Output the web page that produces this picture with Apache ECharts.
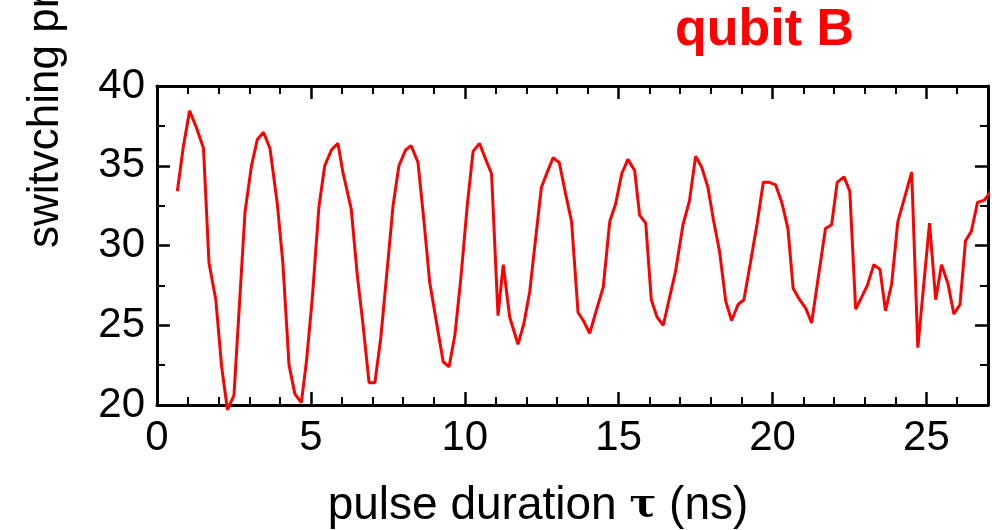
<!DOCTYPE html>
<html>
<head>
<meta charset="utf-8">
<script src="https://cdn.jsdelivr.net/npm/echarts@6/dist/echarts.min.js"></script>
<style>
  html, body { margin: 0; padding: 0; background: #fff; }
  #chart { width: 992px; height: 530px; }
</style>
</head>
<body>
<div id="chart"></div>
<script>
// pulse duration (ns)
var tau = [0.66, 0.86, 1.06, 1.28, 1.51, 1.69, 1.91, 2.10, 2.29, 2.50, 2.86, 3.07, 3.26, 3.46, 3.67, 3.91, 4.09, 4.29, 4.48, 4.69,
  4.86, 5.05, 5.26, 5.45, 5.67, 5.88, 6.04, 6.31, 6.51, 6.69, 6.89, 7.08, 7.27, 7.46, 7.67, 7.86, 8.08, 8.26, 8.48, 8.67,
  8.86, 9.07, 9.30, 9.49, 9.68, 9.87, 10.08, 10.27, 10.48, 10.68, 10.87, 11.08, 11.25, 11.46, 11.73, 11.92, 12.11, 12.30, 12.49, 12.68,
  12.87, 13.07, 13.27, 13.47, 13.68, 13.85, 14.06, 14.27, 14.50, 14.71, 14.90, 15.10, 15.30, 15.52, 15.68, 15.88, 16.06, 16.25, 16.45, 16.66,
  16.85, 17.09, 17.30, 17.50, 17.70, 17.90, 18.08, 18.28, 18.48, 18.67, 18.88, 19.07, 19.28, 19.50, 19.70, 19.90, 20.10, 20.30, 20.50, 20.67,
  20.88, 21.08, 21.27, 21.49, 21.72, 21.92, 22.10, 22.32, 22.51, 22.70, 22.88, 23.08, 23.29, 23.49, 23.67, 23.87, 24.07, 24.29, 24.52, 24.72,
  25.10, 25.30, 25.49, 25.70, 25.89, 26.09, 26.27, 26.46, 26.66, 26.88, 27.10];
// switching probability (%)
var prob = [33.4, 36.25, 38.44, 37.4, 36.1, 28.9, 26.6, 22.4, 19.7, 20.6, 32.1, 35.0, 36.65, 37.1, 36.1, 32.6, 28.9, 22.5, 20.7, 20.15,
  22.8, 26.8, 32.4, 35.0, 36.0, 36.4, 34.6, 32.3, 28.1, 25.1, 21.4, 21.4, 24.2, 28.1, 32.5, 35.0, 36.0, 36.25, 35.2, 31.6,
  27.7, 25.3, 22.7, 22.4, 24.4, 27.9, 32.5, 35.9, 36.4, 35.4, 34.5, 25.6, 28.8, 25.5, 23.8, 25.1, 27.1, 30.4, 33.65, 34.6,
  35.5, 35.2, 33.3, 31.5, 25.8, 25.3, 24.5, 25.9, 27.4, 31.5, 32.6, 34.5, 35.4, 34.7, 31.9, 31.4, 26.6, 25.5, 25.0, 26.8,
  28.4, 31.3, 32.8, 35.6, 34.9, 33.65, 31.6, 29.6, 26.5, 25.3, 26.3, 26.6, 28.9, 31.4, 33.96, 33.96, 33.8, 32.7, 31.06, 27.3,
  26.6, 26.06, 25.15, 28.06, 31.06, 31.3, 33.96, 34.3, 33.4, 26.0, 26.7, 27.5, 28.8, 28.5, 25.9, 27.6, 31.5, 33.0, 34.6, 23.6,
  31.4, 26.6, 28.8, 27.6, 25.7, 26.3, 30.3, 30.9, 32.7, 32.85, 33.4];

var xTicks = [0, 5, 10, 15, 20, 25];
var yTicks = [20, 25, 30, 35, 40];

var points = [];
for (var i = 0; i < tau.length; i++) {
  points.push([tau[i], prob[i]]);
}

var chart = echarts.init(document.getElementById('chart'));

var font = 'Liberation Sans, Arial, sans-serif';
var frame = { show: true, onZero: false, lineStyle: { color: '#000', width: 3 } };
var tick = { show: true, inside: true, length: 13, lineStyle: { color: '#000', width: 2.5 } };
var minor = { show: true, length: 8, lineStyle: { color: '#000', width: 2 } };

var option = {
  backgroundColor: '#fff',
  animation: false,
  title: {
    text: 'qubit B',
    left: 670,
    top: 0,
    textStyle: { color: '#ff0000', fontSize: 52, fontWeight: 'bold', fontFamily: font }
  },
  grid: { left: 157, right: 4, top: 86, bottom: 125 },
  xAxis: [{
    type: 'value',
    position: 'bottom',
    min: 0,
    max: 27,
    interval: 5,
    axisLine: frame,
    axisTick: tick,
    minorTick: Object.assign({ splitNumber: 5 }, minor),
    splitLine: { show: false },
    axisLabel: {
      margin: 12,
      color: '#000',
      fontSize: 42,
      fontFamily: font,
      showMaxLabel: false,
      formatter: function (v) { return xTicks.indexOf(v) >= 0 ? String(v) : ''; }
    }
  }, {
    type: 'value',
    position: 'top',
    min: 0,
    max: 27,
    interval: 5,
    axisLine: frame,
    axisTick: tick,
    minorTick: Object.assign({ splitNumber: 5 }, minor),
    splitLine: { show: false },
    axisLabel: { show: false }
  }],
  yAxis: [{
    type: 'value',
    position: 'left',
    min: 20,
    max: 40,
    interval: 5,
    axisLine: frame,
    axisTick: tick,
    minorTick: Object.assign({ splitNumber: 2 }, minor),
    splitLine: { show: false },
    axisLabel: {
      margin: 12,
      color: '#000',
      fontSize: 42,
      fontFamily: font,
      formatter: function (v) { return yTicks.indexOf(v) >= 0 ? String(v) : ''; }
    }
  }, {
    type: 'value',
    position: 'right',
    min: 20,
    max: 40,
    interval: 5,
    axisLine: frame,
    axisTick: tick,
    minorTick: Object.assign({ splitNumber: 2 }, minor),
    splitLine: { show: false },
    axisLabel: { show: false }
  }],
  graphic: [{
    type: 'text',
    x: 46,
    y: 248,
    rotation: Math.PI / 2,
    style: {
      text: 'switvching probability (%)',
      fill: '#000',
      font: '44px ' + font,
      textAlign: 'left',
      textVerticalAlign: 'middle'
    }
  }, {
    type: 'text',
    x: 538,
    y: 506,
    style: {
      text: 'pulse duration {t|\u03c4} (ns)',
      fill: '#000',
      font: '46px ' + font,
      textAlign: 'center',
      textVerticalAlign: 'middle',
      rich: {
        t: { fontFamily: 'DejaVu Serif', fontWeight: 'bold', fontSize: 40, fill: '#000' }
      }
    }
  }],
  series: [{
    type: 'line',
    data: points,
    xAxisIndex: 0,
    yAxisIndex: 0,
    clip: false,
    symbol: 'none',
    lineStyle: { color: '#ff0000', width: 3 }
  }]
};

chart.setOption(option);
</script>
</body>
</html>
